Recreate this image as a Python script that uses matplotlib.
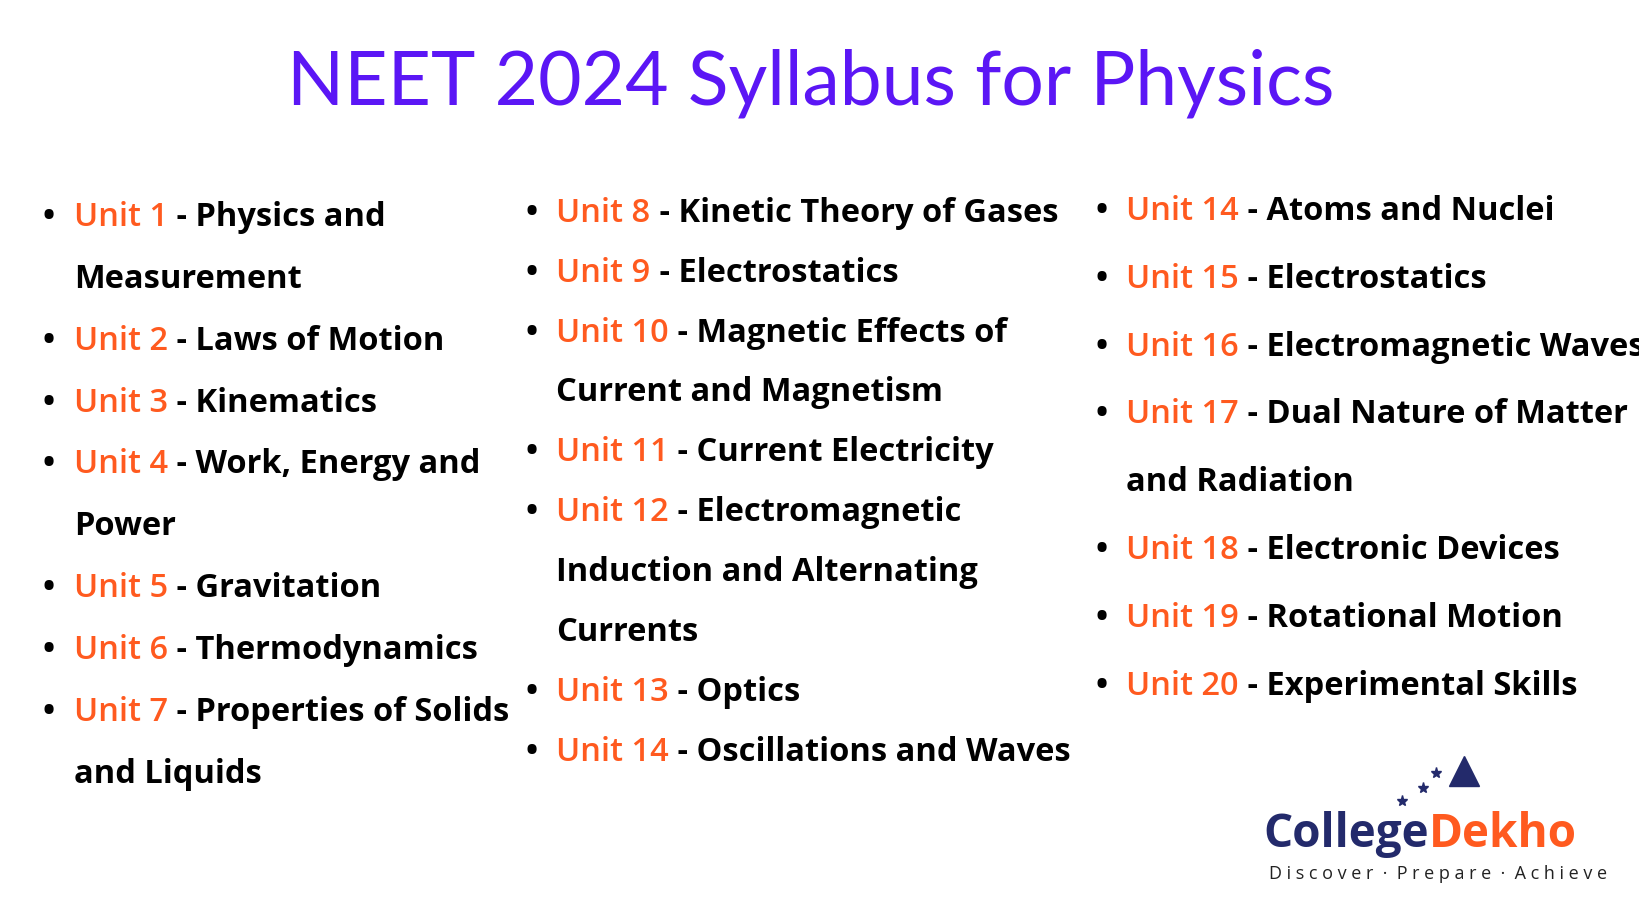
import matplotlib.pyplot as plt

title = "NEET 2024 Syllabus for Physics"

# each column: list of items; each item = (unit label, text lines)
col1 = [("Unit 1", ["Physics and", "Measurement"]),
        ("Unit 2", ["Laws of Motion"]),
        ("Unit 3", ["Kinematics"]),
        ("Unit 4", ["Work, Energy and", "Power"]),
        ("Unit 5", ["Gravitation"]),
        ("Unit 6", ["Thermodynamics"]),
        ("Unit 7", ["Properties of Solids", "and Liquids"])]
col2 = [("Unit 8", ["Kinetic Theory of Gases"]),
        ("Unit 9", ["Electrostatics"]),
        ("Unit 10", ["Magnetic Effects of", "Current and Magnetism"]),
        ("Unit 11", ["Current Electricity"]),
        ("Unit 12", ["Electromagnetic", "Induction and Alternating", "Currents"]),
        ("Unit 13", ["Optics"]),
        ("Unit 14", ["Oscillations and Waves"])]
col3 = [("Unit 14", ["Atoms and Nuclei"]),
        ("Unit 15", ["Electrostatics"]),
        ("Unit 16", ["Electromagnetic Waves"]),
        ("Unit 17", ["Dual Nature of Matter", "and Radiation"]),
        ("Unit 18", ["Electronic Devices"]),
        ("Unit 19", ["Rotational Motion"]),
        ("Unit 20", ["Experimental Skills"])]

ORANGE = "#ff5a1f"
PURPLE = "#5b16f5"
NAVY = "#232a6b"
FONT = "Open Sans"

fig = plt.figure(figsize=(16.4, 9.24), dpi=100)
ax = fig.add_axes([0, 0, 1, 1])
ax.set_xlim(0, 1568)
ax.set_ylim(884, 0)
ax.axis("off")

ax.text(775, 80, title, ha="center", va="center", fontsize=54,
        color=PURPLE, family="Lato", fontweight="normal")

layouts = [(col1, 46, 71, 208, 59.2), (col2, 508, 532, 204, 57.3),
           (col3, 1053, 1077, 202, 65.0)]
fs = 23.5
for items, xb, xt, y0, dy in layouts:
    row = 0
    for label, lines in items:
        y = y0 + row * dy
        ax.text(xb, y, "\u2022", ha="center", va="center", fontsize=fs,
                color="black", family=FONT, fontweight="bold")
        t = ax.text(xt, y, label, ha="left", va="center", fontsize=fs,
                    color=ORANGE, family=FONT, fontweight="semibold")
        ax.annotate(" - " + lines[0], xy=(1, 0.5), xycoords=t, ha="left",
                    va="center", fontsize=fs, color="black", family=FONT,
                    fontweight="bold", annotation_clip=False)
        row += 1
        for extra in lines[1:]:
            ax.text(xt, y0 + row * dy, extra, ha="left", va="center",
                    fontsize=fs, color="black", family=FONT, fontweight="bold")
            row += 1

# logo
lg = ax.text(1208, 798, "College", ha="left", va="center", fontsize=33,
             color=NAVY, family=FONT, fontweight="bold")
ax.annotate("Dekho", xy=(1, 0.5), xycoords=lg, ha="left", va="center",
            fontsize=33, color=ORANGE, family=FONT, fontweight="bold")
ax.text(1375, 836, "D i s c o v e r  \u00b7  P r e p a r e  \u00b7  A c h i e v e",
        ha="center", va="center", fontsize=13, color="#222222", family=FONT)
ax.plot([1340, 1361, 1373], [766, 754, 740], linestyle="none", marker="*",
        color=NAVY, markersize=8)
ax.plot([1400], [738], marker="^", color=NAVY, markersize=22)

fig.savefig("out.png", dpi=100, facecolor="white")
